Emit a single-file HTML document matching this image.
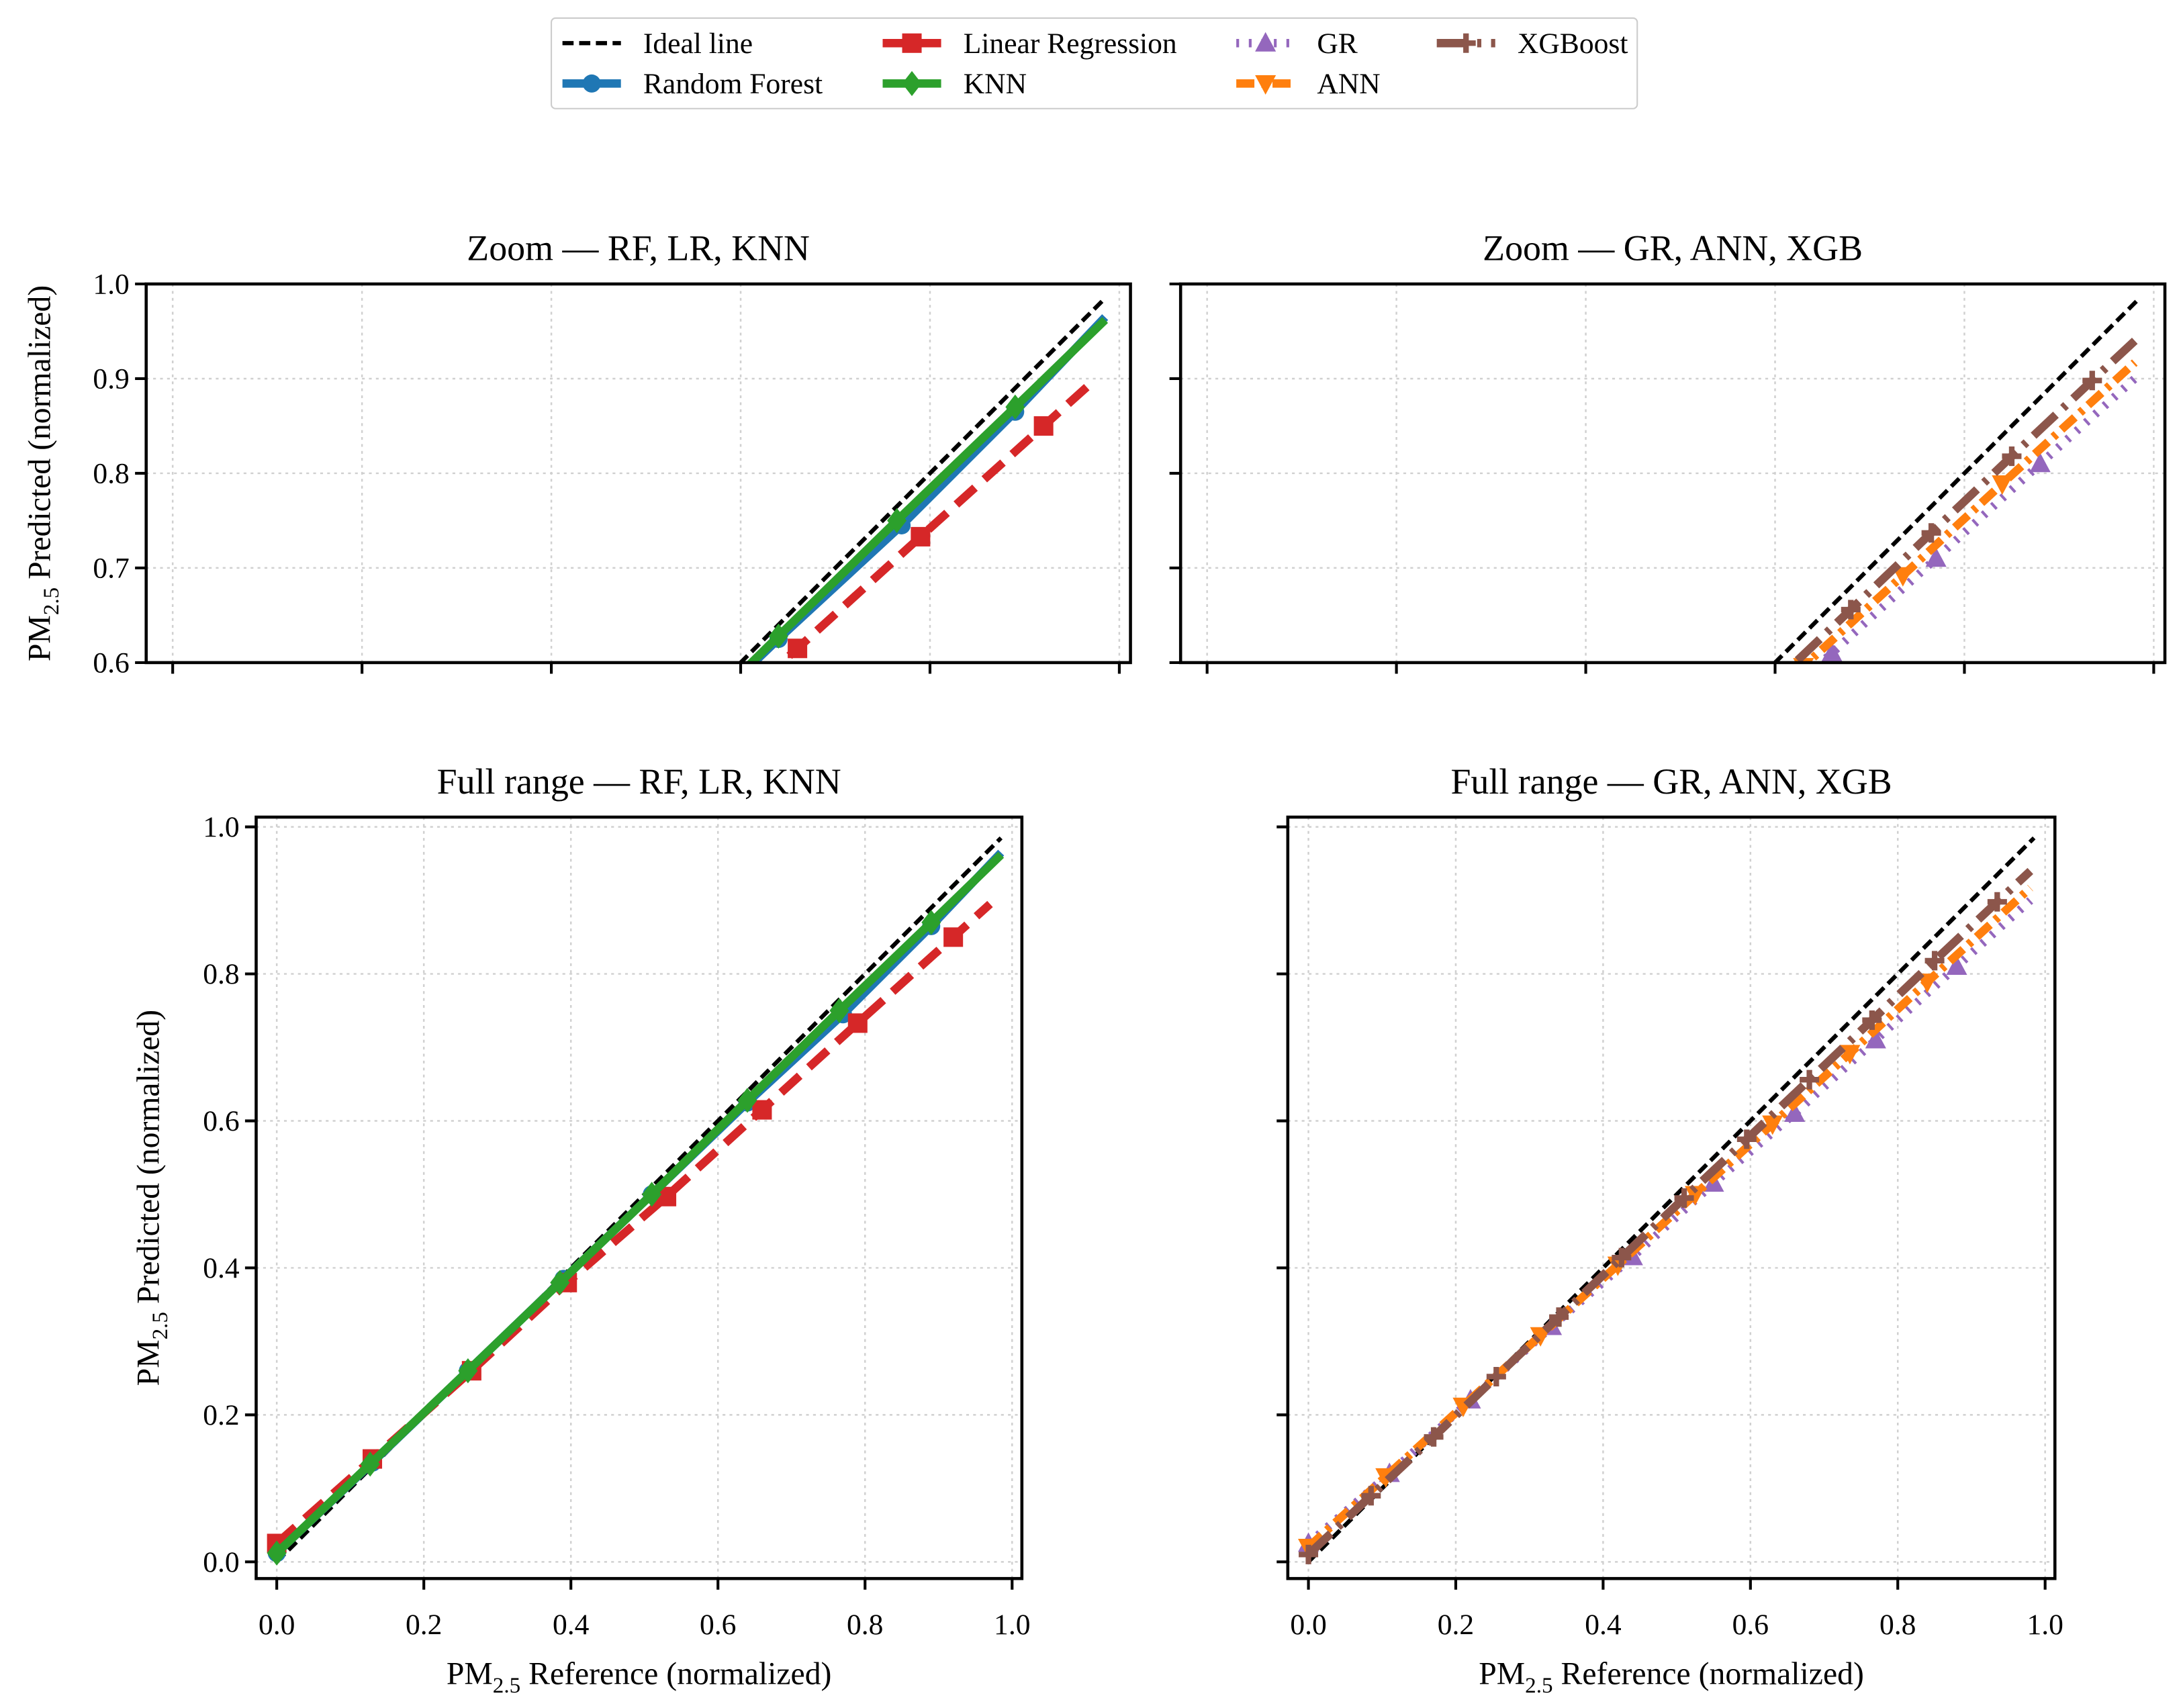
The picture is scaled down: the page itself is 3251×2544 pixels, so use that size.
<!DOCTYPE html>
<html><head><meta charset="utf-8">
<style>
html,body{margin:0;padding:0;background:#fff;}
svg{display:block;font-family:"Liberation Serif",serif;}
</style></head>
<body>
<svg id="fig" width="3251" height="2544" viewBox="0 0 1568 1227" xmlns="http://www.w3.org/2000/svg">
<rect x="0" y="0" width="1568" height="1227" fill="#fff"/>
<g id="legend"></g>
</svg>
<script>
// ---- data ----
const xTicks = [0, 0.2, 0.4, 0.6, 0.8, 1.0];
const xTickLabels = ["0.0","0.2","0.4","0.6","0.8","1.0"];
const yTicksZoom = [0.6, 0.7, 0.8, 0.9, 1.0];
const yTickLabelsZoom = ["0.6","0.7","0.8","0.9","1.0"];
const yTicksFull = [0, 0.2, 0.4, 0.6, 0.8, 1.0];
const yTickLabelsFull = ["0.0","0.2","0.4","0.6","0.8","1.0"];

const idealX = [0, 0.985];
const idealY = [0, 0.985];
const rfX = [0, 0.13, 0.26, 0.39, 0.51, 0.64, 0.77, 0.89, 0.985];
const rfY = [0.012, 0.135, 0.26, 0.385, 0.50, 0.625, 0.745, 0.865, 0.965];
const knnX = [0, 0.127, 0.26, 0.385, 0.51, 0.64, 0.765, 0.89, 0.985];
const knnY = [0.012, 0.133, 0.26, 0.38, 0.50, 0.628, 0.75, 0.87, 0.962];
const lrX = [0, 0.13, 0.265, 0.395, 0.53, 0.66, 0.79, 0.92, 0.97];
const lrY = [0.025, 0.14, 0.26, 0.38, 0.497, 0.615, 0.733, 0.85, 0.895];
const grX = [0, 0.11, 0.22, 0.33, 0.44, 0.55, 0.66, 0.77, 0.88, 0.98];
const grY = [0.025, 0.12, 0.22, 0.32, 0.415, 0.515, 0.61, 0.71, 0.81, 0.90];
const annX = [0, 0.105, 0.21, 0.315, 0.42, 0.525, 0.63, 0.735, 0.84, 0.98];
const annY = [0.02, 0.116, 0.212, 0.308, 0.404, 0.50, 0.596, 0.692, 0.789, 0.917];
const xgbX = [0, 0.085, 0.17, 0.255, 0.34, 0.425, 0.51, 0.595, 0.68, 0.765, 0.85, 0.935, 0.98];
const xgbY = [0.01, 0.09, 0.17, 0.252, 0.333, 0.414, 0.495, 0.575, 0.656, 0.737, 0.818, 0.898, 0.94];

const NS = "http://www.w3.org/2000/svg";
const svg = document.getElementById("fig");
function mk(tag, attrs, parent) {
  const e = document.createElementNS(NS, tag);
  for (const k in attrs) e.setAttribute(k, attrs[k]);
  (parent || svg).appendChild(e);
  return e;
}

const S = {
  ideal: {c:"#000", w:3, dash:"8,4", m:null},
  rf: {c:"#1f77b4", w:6, dash:"", m:"circle"},
  lr: {c:"#d62728", w:6, dash:"18,9", m:"square"},
  knn: {c:"#2ca02c", w:6, dash:"", m:"diamond"},
  gr: {c:"#9467bd", w:6, dash:"2,7", m:"tri-up"},
  ann: {c:"#ff7f0e", w:6, dash:"13,5,3,5", m:"tri-down"},
  xgb: {c:"#8c564b", w:6, dash:"22,7,3,7", m:"plus"}
};

function marker(g, type, x, y, c, name) {
  let e;
  if (type === "circle") e = mk("circle", {cx:x, cy:y, r:6.5, fill:c}, g);
  else if (type === "square") e = mk("rect", {x:x-7, y:y-7, width:14, height:14, fill:c}, g);
  else if (type === "diamond") e = mk("polygon", {points:`${x},${y-9} ${x+7},${y} ${x},${y+9} ${x-7},${y}`, fill:c}, g);
  else if (type === "tri-up") e = mk("polygon", {points:`${x},${y-8} ${x+7.5},${y+6} ${x-7.5},${y+6}`, fill:c}, g);
  else if (type === "tri-down") e = mk("polygon", {points:`${x},${y+8} ${x+7.5},${y-6} ${x-7.5},${y-6}`, fill:c}, g);
  else if (type === "plus") e = mk("path", {d:`M${x-7},${y}H${x+7}M${x},${y-7}V${y+7}`, stroke:c, "stroke-width":4, fill:"none"}, g);
  
  
}

let clipId = 0;
function panel(cfg) {
  const g = mk("g", {});
  
  
  const {L, R, T, B, x0, x1, y0, y1} = cfg;
  const sx = v => L + (v - x0) / (x1 - x0) * (R - L);
  const sy = v => B - (v - y0) / (y1 - y0) * (B - T);
  cfg.xt.forEach(v => { const l = mk("line", {x1:sx(v), x2:sx(v), y1:T, y2:B, stroke:"#d0d0d0", "stroke-width":1.2, "stroke-dasharray":"2,3"}, g);
      });
  cfg.yt.forEach(v => { const l = mk("line", {x1:L, x2:R, y1:sy(v), y2:sy(v), stroke:"#d0d0d0", "stroke-width":1.2, "stroke-dasharray":"2,3"}, g);
      });
  const id = "clip" + (clipId++);
  const cp = mk("clipPath", {id:id}, g);
  mk("rect", {x:L, y:T, width:R-L, height:B-T}, cp);
  const data = mk("g", {"clip-path":`url(#${id})`}, g);
  
  
  cfg.series.forEach(s => {
    const st = S[s.key];
    const pts = s.x.map((v, i) => sx(v) + "," + sy(s.y[i])).join(" ");
    const pl = mk("polyline", {points:pts, fill:"none", stroke:st.c, "stroke-width":st.w, "stroke-dasharray":st.dash, "stroke-linejoin":"round"}, data);
    
    
    if (st.m) for (let i = 0; i < s.x.length - 1; i++) marker(data, st.m, sx(s.x[i]), sy(s.y[i]), st.c, s.key + '-marker');
  });
  const f = mk("rect", {x:L, y:T, width:R-L, height:B-T, fill:"none", stroke:"#000", "stroke-width":2.2}, g);
   
  cfg.xt.forEach((v, i) => {
    const t = mk("line", {x1:sx(v), x2:sx(v), y1:B, y2:B+8, stroke:"#000", "stroke-width":2}, g);
     
    if (cfg.xl) { const tx = mk("text", {x:sx(v), y:B+40, "text-anchor":"middle", "font-size":21}, g); tx.textContent = cfg.xl[i];
        }
  });
  cfg.yt.forEach((v, i) => {
    const t = mk("line", {x1:L-8, x2:L, y1:sy(v), y2:sy(v), stroke:"#000", "stroke-width":2}, g);
     
    if (cfg.yl) { const tx = mk("text", {x:L-12, y:sy(v)+7, "text-anchor":"end", "font-size":21}, g); tx.textContent = cfg.yl[i];
        }
  });
  const ti = mk("text", {x:(L+R)/2, y:T-17, "text-anchor":"middle", "font-size":26}, g);
  ti.textContent = cfg.title;
   
  if (cfg.ylab) {
    const t = mk("text", {transform:`translate(${cfg.ylab[0]},${(T+B)/2}) rotate(-90)`, "text-anchor":"middle", "font-size":23}, g);
    t.innerHTML = 'PM<tspan font-size="16" dy="6">2.5</tspan><tspan dy="-6"> Predicted (normalized)</tspan>';
     
  }
  if (cfg.xlab) {
    const t = mk("text", {x:(L+R)/2, y:cfg.xlab, "text-anchor":"middle", "font-size":23}, g);
    t.innerHTML = 'PM<tspan font-size="16" dy="6">2.5</tspan><tspan dy="-6"> Reference (normalized)</tspan>';
     
  }
}

const leftSeries = [{key:"ideal",x:idealX,y:idealY},{key:"rf",x:rfX,y:rfY},{key:"lr",x:lrX,y:lrY},{key:"knn",x:knnX,y:knnY}];
const rightSeries = [{key:"ideal",x:idealX,y:idealY},{key:"gr",x:grX,y:grY},{key:"ann",x:annX,y:annY},{key:"xgb",x:xgbX,y:xgbY}];
const zx0 = -0.028, zx1 = 1.0118;
const fx0 = -0.028, fx1 = 1.0133;
const fy0 = -0.0227, fy1 = 1.0133;

panel({name:"zoom-rf-lr-knn-panel", L:105, R:812, T:204, B:476, x0:zx0, x1:zx1, y0:0.6, y1:1.0,
  xt:xTicks, yt:yTicksZoom, yl:yTickLabelsZoom, title:"Zoom — RF, LR, KNN", ylab:[36], series:leftSeries});
panel({name:"zoom-gr-ann-xgb-panel", L:848, R:1555, T:204, B:476, x0:zx0, x1:zx1, y0:0.6, y1:1.0,
  xt:xTicks, yt:yTicksZoom, title:"Zoom — GR, ANN, XGB", series:rightSeries});
panel({name:"full-rf-lr-knn-panel", L:184, R:734, T:587, B:1134, x0:fx0, x1:fx1, y0:fy0, y1:fy1,
  xt:xTicks, xl:xTickLabels, yt:yTicksFull, yl:yTickLabelsFull, title:"Full range — RF, LR, KNN", ylab:[114], xlab:1210, series:leftSeries});
panel({name:"full-gr-ann-xgb-panel", L:925, R:1476, T:587, B:1134, x0:fx0, x1:fx1, y0:fy0, y1:fy1,
  xt:xTicks, xl:xTickLabels, yt:yTicksFull, title:"Full range — GR, ANN, XGB", xlab:1210, series:rightSeries});

const lg = document.getElementById("legend");
const box = mk("rect", {x:396, y:13, width:780, height:65, rx:3, fill:"#fff", stroke:"#ccc", "stroke-width":1}, lg);
 
const entries = [
  {key:"ideal", label:"Ideal line", x:404, y:31},
  {key:"rf", label:"Random Forest", x:404, y:60},
  {key:"lr", label:"Linear Regression", x:634, y:31},
  {key:"knn", label:"KNN", x:634, y:60},
  {key:"gr", label:"GR", x:888, y:31},
  {key:"ann", label:"ANN", x:888, y:60},
  {key:"xgb", label:"XGBoost", x:1032, y:31}
];
entries.forEach(en => {
  const st = S[en.key];
  const g = mk("g", {}, lg);
  
  
  mk("line", {x1:en.x, x2:en.x+42, y1:en.y, y2:en.y, stroke:st.c, "stroke-width":st.w, "stroke-dasharray":st.dash}, g);
  if (st.m) marker(g, st.m, en.x+21, en.y, st.c, 'legend-marker');
  const t = mk("text", {x:en.x+58, y:en.y+7, "font-size":21}, g);
  t.textContent = en.label;
   
});
</script>
</body></html>
